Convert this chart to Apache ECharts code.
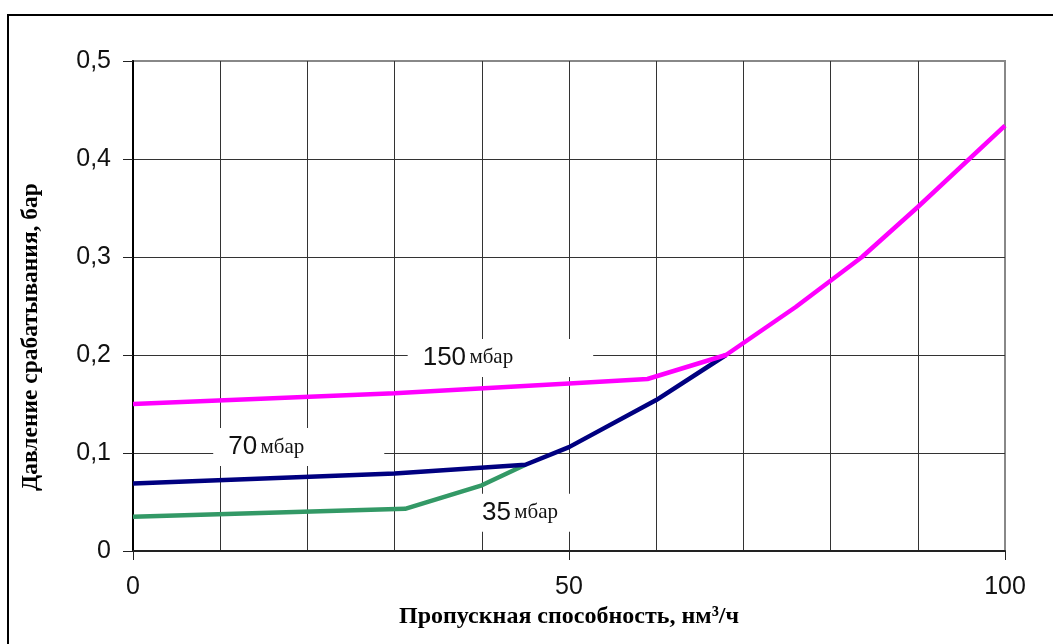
<!DOCTYPE html>
<html><head><meta charset="utf-8">
<script src="https://cdn.jsdelivr.net/npm/echarts@6/dist/echarts.min.js"></script>
<style>html,body{margin:0;padding:0;background:#fff}#c{width:1053px;height:644px}</style>
</head><body><div id="c"></div>
<script>
// --- data ---
const xGridStep = 10;
const xLabelStep = 50;
const yStep = 0.1;
const green35 = [[0,0.035],[31.2,0.043],[40,0.067],[45,0.088]];
const blue70 = [[0,0.069],[30,0.079],[45,0.088],[50,0.106],[60,0.154],[68,0.2]];
const pink150 = [[0,0.15],[30,0.161],[50,0.171],[59,0.1755],[68,0.2],[76,0.249],[83.6,0.3],[90,0.351],[100,0.434]];
const labelNums = ['150', '70', '35'];
const labelUnit = 'мбар';
const labelAnchors = [[31.5,0.197],[9.2,0.106],[38.3,0.039]];
const xTitle = 'Пропускная способность, нм³/ч';
const yTitle = 'Давление срабатывания, бар';

const chart = echarts.init(document.getElementById('c'));
const sans = 'Liberation Sans';
const serif = 'Liberation Serif';
const gridColor = '#333';

chart.setOption({
  animation: false,
  backgroundColor: '#fff',
  graphic: [{
    type: 'rect', z: -10,
    shape: {x: 8, y: 15, width: 1100, height: 700},
    style: {fill: 'none', stroke: '#000', lineWidth: 2}
  }],
  grid: {left: 133, right: 48, top: 61, bottom: 93, show: true, borderColor: '#888', borderWidth: 2, backgroundColor: 'transparent'},
  xAxis: [{
    type: 'value', min: 0, max: 100, interval: xGridStep, position: 'bottom',
    axisLine: {show: true, lineStyle: {color: '#222', width: 2}},
    axisTick: {show: false}, axisLabel: {show: false},
    splitLine: {show: true, showMinLine: false, showMaxLine: false, lineStyle: {color: gridColor, width: 1}}
  }, {
    type: 'value', min: 0, max: 100, interval: xLabelStep, position: 'bottom',
    axisLine: {show: false},
    axisTick: {show: true, length: 9, lineStyle: {color: '#222', width: 1}},
    axisLabel: {show: true, fontFamily: sans, fontSize: 25, color: '#111', margin: 24},
    splitLine: {show: false},
    name: xTitle, nameLocation: 'middle', nameGap: 50,
    nameTextStyle: {fontFamily: serif, fontWeight: 'bold', fontSize: 24, color: '#000'}
  }],
  yAxis: {
    type: 'value', min: 0, max: 0.5, interval: yStep,
    axisLine: {show: true, lineStyle: {color: '#000', width: 2}},
    axisTick: {show: true, length: 10, lineStyle: {color: '#222', width: 1}},
    axisLabel: {fontFamily: sans, fontSize: 25, color: '#111', margin: 22,
      formatter: v => String(+v.toFixed(1)).replace('.', ',')},
    splitLine: {show: true, showMinLine: false, showMaxLine: false, lineStyle: {color: gridColor, width: 1}},
    name: yTitle, nameLocation: 'middle', nameGap: 90,
    nameTextStyle: {fontFamily: serif, fontWeight: 'bold', fontSize: 23.5, color: '#000', padding: [0, 62, 0, 0]}
  },
  series: [
    {
      type: 'scatter', symbolSize: 0, z: 2, silent: true,
      itemStyle: {opacity: 1},
      data: labelAnchors.map((p, i) => ({value: p, name: labelNums[i]})),
      label: {
        show: true, position: 'inside', align: 'left', verticalAlign: 'middle',
        backgroundColor: '#fff', padding: [6, 80, 6, 15], opacity: 1,
        formatter: p => '{n|' + p.name + '} {u|' + labelUnit + '}',
        rich: {
          n: {fontFamily: sans, fontSize: 26, color: '#111'},
          u: {fontFamily: serif, fontSize: 21, color: '#111'}
        }
      }
    },
    {type: 'line', data: green35, symbol: 'none', lineStyle: {color: '#339966', width: 4.5}, z: 3},
    {type: 'line', data: blue70, symbol: 'none', lineStyle: {color: '#000080', width: 4.5}, z: 4},
    {type: 'line', data: pink150, symbol: 'none', lineStyle: {color: '#ff00ff', width: 4.5}, z: 5}
  ]
});
</script></body></html>
